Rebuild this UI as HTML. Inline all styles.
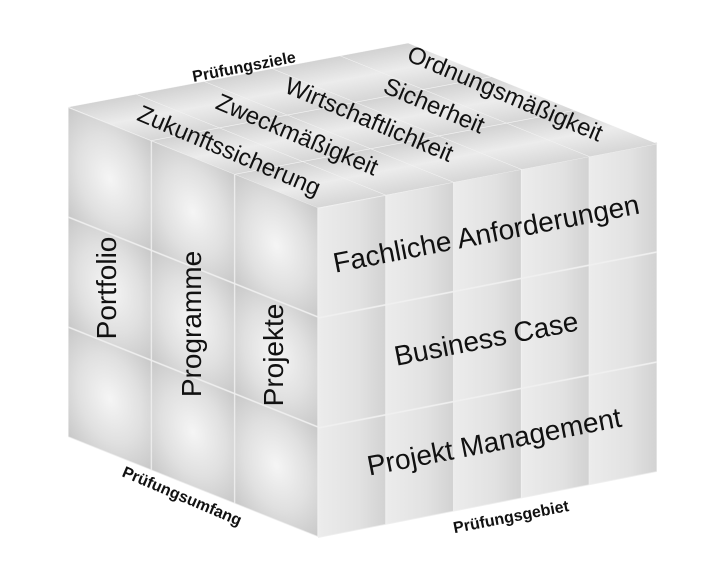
<!DOCTYPE html>
<html><head><meta charset="utf-8"><style>
html,body{margin:0;padding:0;background:#fff;}
svg{display:block;}
text{font-family:"Liberation Sans","DejaVu Sans",sans-serif;fill:#111;}
</style></head><body>
<svg width="720" height="570" viewBox="0 0 720 570" xmlns="http://www.w3.org/2000/svg">
<defs>
<radialGradient id="rg" cx="0.5" cy="0.5" r="0.7">
<stop offset="0" stop-color="#f5f5f5"/><stop offset="0.55" stop-color="#e0e0e0"/><stop offset="1" stop-color="#c8c8c8"/>
</radialGradient>
<linearGradient id="lg" x1="0" y1="0" x2="1" y2="0">
<stop offset="0" stop-color="#ececec"/><stop offset="0.6" stop-color="#e2e2e2"/><stop offset="1" stop-color="#d2d2d2"/>
</linearGradient>
<linearGradient id="tg" x1="0" y1="0" x2="1" y2="0">
<stop offset="0" stop-color="#d2d2d2"/><stop offset="0.5" stop-color="#ececec"/><stop offset="1" stop-color="#d6d6d6"/>
</linearGradient>
<pattern id="pr" width="100" height="100" patternUnits="userSpaceOnUse"><rect width="100" height="100" fill="url(#rg)" stroke="#efefef" stroke-width="1.5"/></pattern>
<pattern id="pl" width="100" height="100" patternUnits="userSpaceOnUse"><rect width="100" height="100" fill="url(#lg)" stroke="#f0f0f0" stroke-width="1.5"/></pattern>
<pattern id="pt" width="100" height="100" patternUnits="userSpaceOnUse"><rect width="100" height="100" fill="url(#tg)" stroke="#f2f2f2" stroke-width="1.5"/></pattern>
</defs>
<g transform="matrix(0.8333,0.3333,0,1.1,68,107)"><rect width="300" height="300" fill="url(#pr)"/></g>
<g transform="matrix(0.678,-0.132,0,1.1,318,208)"><rect width="500" height="300" fill="url(#pl)"/></g>
<g transform="matrix(0.8333,0.3367,0.68,-0.128,68,107)"><rect width="300" height="500" fill="url(#pt)"/></g>

<text transform="translate(116,288) rotate(-90)" text-anchor="middle" font-size="28">Portfolio</text>
<text transform="translate(201,324) rotate(-90)" text-anchor="middle" font-size="28">Programme</text>
<text transform="translate(283,355) rotate(-90)" text-anchor="middle" font-size="28">Projekte</text>

<text transform="translate(226,158) rotate(23)" text-anchor="middle" font-size="24">Zukunftssicherung</text>
<text transform="translate(294,142) rotate(23)" text-anchor="middle" font-size="24">Zweckmäßigkeit</text>
<text transform="translate(366,127) rotate(23)" text-anchor="middle" font-size="24">Wirtschaftlichkeit</text>
<text transform="translate(431,113) rotate(23)" text-anchor="middle" font-size="24">Sicherheit</text>
<text transform="translate(502,101) rotate(23)" text-anchor="middle" font-size="24">Ordnungsmäßigkeit</text>

<text transform="translate(488,243) rotate(-11)" text-anchor="middle" font-size="28">Fachliche Anforderungen</text>
<text transform="translate(488,348) rotate(-11)" text-anchor="middle" font-size="28">Business Case</text>
<text transform="translate(496,451) rotate(-11)" text-anchor="middle" font-size="28">Projekt Management</text>

<text transform="translate(245,72) rotate(-11)" text-anchor="middle" font-size="16" font-weight="bold">Prüfungsziele</text>
<text transform="translate(180,501) rotate(23)" text-anchor="middle" font-size="16" font-weight="bold">Prüfungsumfang</text>
<text transform="translate(512,522) rotate(-11)" text-anchor="middle" font-size="16" font-weight="bold">Prüfungsgebiet</text>
</svg>
</body></html>
